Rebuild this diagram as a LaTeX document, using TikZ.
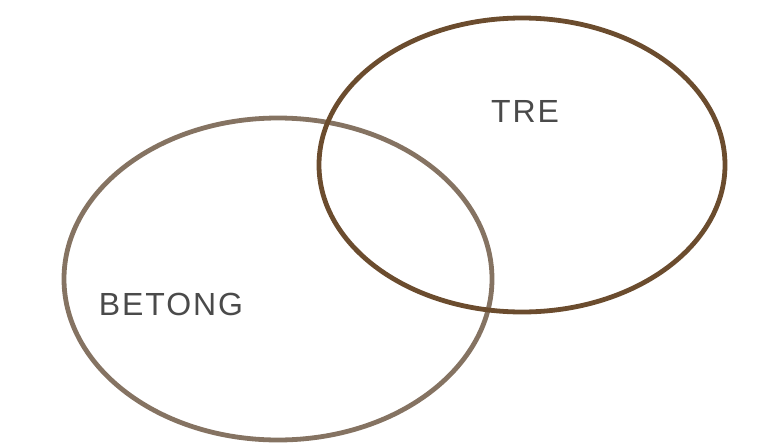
\documentclass[tikz,border=0pt]{standalone}
\usepackage{fontspec}
\setmainfont{Liberation Sans}
\usetikzlibrary{positioning}
\definecolor{betongbrown}{HTML}{857362}
\definecolor{trebrown}{HTML}{6B4C2E}
\definecolor{labelgray}{HTML}{4A4A4A}

\begin{document}
\begin{tikzpicture}[x=0.75pt,y=-0.75pt]
\tikzset{
  setring/.style={line width=3.6pt},
  setlabel/.style={text=labelgray,font=\fontsize{24}{28}\selectfont\addfontfeature{LetterSpace=6}}
}
\useasboundingbox (0,0) rectangle (763,446);
\draw[setring,betongbrown] (278,279) ellipse [x radius=214, y radius=161];
\draw[setring,trebrown] (522,165) ellipse [x radius=203, y radius=147];
\node[setlabel] (betong) at (171,304) {BETONG};
\node[setlabel] (tre) at (525,111) {TRE};
\end{tikzpicture}
\end{document}
